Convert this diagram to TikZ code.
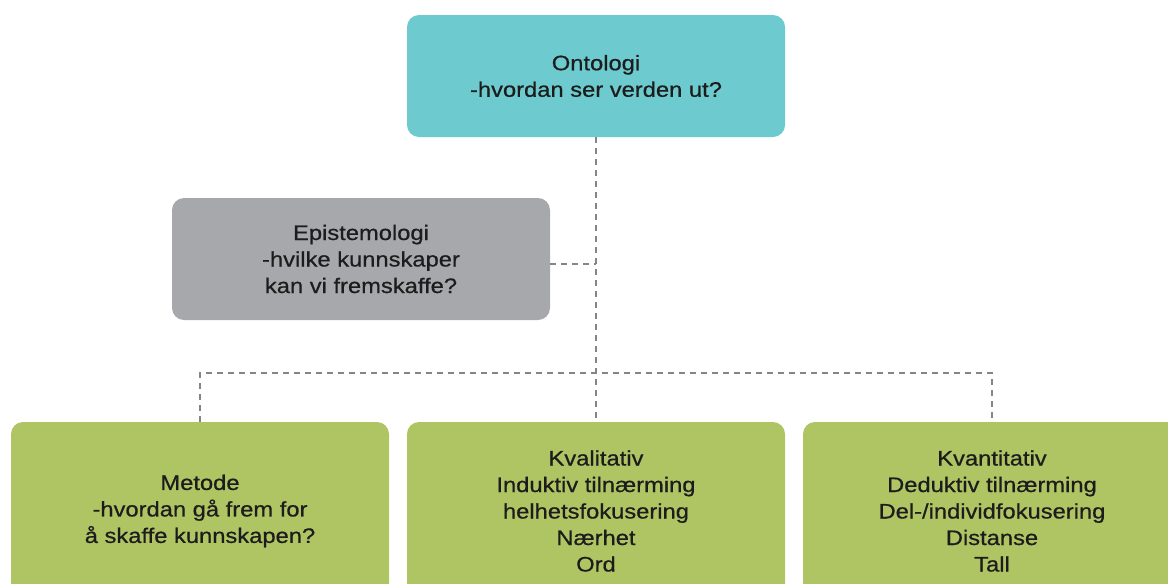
\documentclass[tikz,border=0pt]{standalone}
\usepackage{fontspec}
\setmainfont{Liberation Sans}[FakeStretch=1.13, FakeBold=0.6]
\definecolor{ontoteal}{HTML}{6DCACE}
\definecolor{epigray}{HTML}{A6A8AB}
\definecolor{metgreen}{HTML}{AFC463}
\definecolor{inktext}{HTML}{1C1C1C}
\definecolor{linkgray}{HTML}{858585}
\begin{document}
\begin{tikzpicture}[x=1pt,y=-1pt,
  card/.style={rectangle, rounded corners=12pt, draw=none,
    minimum width=378pt, align=center, text=inktext,
    font=\fontsize{21}{26.5}\selectfont},
  topcard/.style={card, fill=ontoteal, minimum height=122pt},
  midcard/.style={card, fill=epigray, minimum height=122pt},
  lowcard/.style={card, fill=metgreen, minimum height=178pt},
  link/.style={draw=linkgray, line width=1.3pt, dash pattern=on 6pt off 5pt}]
\useasboundingbox (0,0) rectangle (1168,584);
\clip (0,0) rectangle (1168,584);

% boxes
\node[topcard] (onto) at (596,76) {Ontologi\\-hvordan ser verden ut?};
\node[midcard] (epi) at (361,259) {Epistemologi\\-hvilke kunnskaper\\kan vi fremskaffe?};
\node[lowcard] (met) at (200,511) {Metode\\-hvordan gå frem for\\å skaffe kunnskapen?};
\node[lowcard] (kval) at (596,511) {Kvalitativ\\Induktiv tilnærming\\helhetsfokusering\\Nærhet\\Ord};
\node[lowcard] (kvant) at (992,511) {Kvantitativ\\Deduktiv tilnærming\\Del-/individfokusering\\Distanse\\Tall};

% junction points on the dashed links
\coordinate (epij) at (596,264);
\coordinate (bar) at (596,373);

% dashed links
\draw[link] (onto.south) -- (kval.north);
\draw[link] ([yshift=-5pt]epi.east) -- (epij);
\draw[link] (met.north) -- (met.north |- bar) -- (kvant.north |- bar) -- (kvant.north);
\end{tikzpicture}
\end{document}
